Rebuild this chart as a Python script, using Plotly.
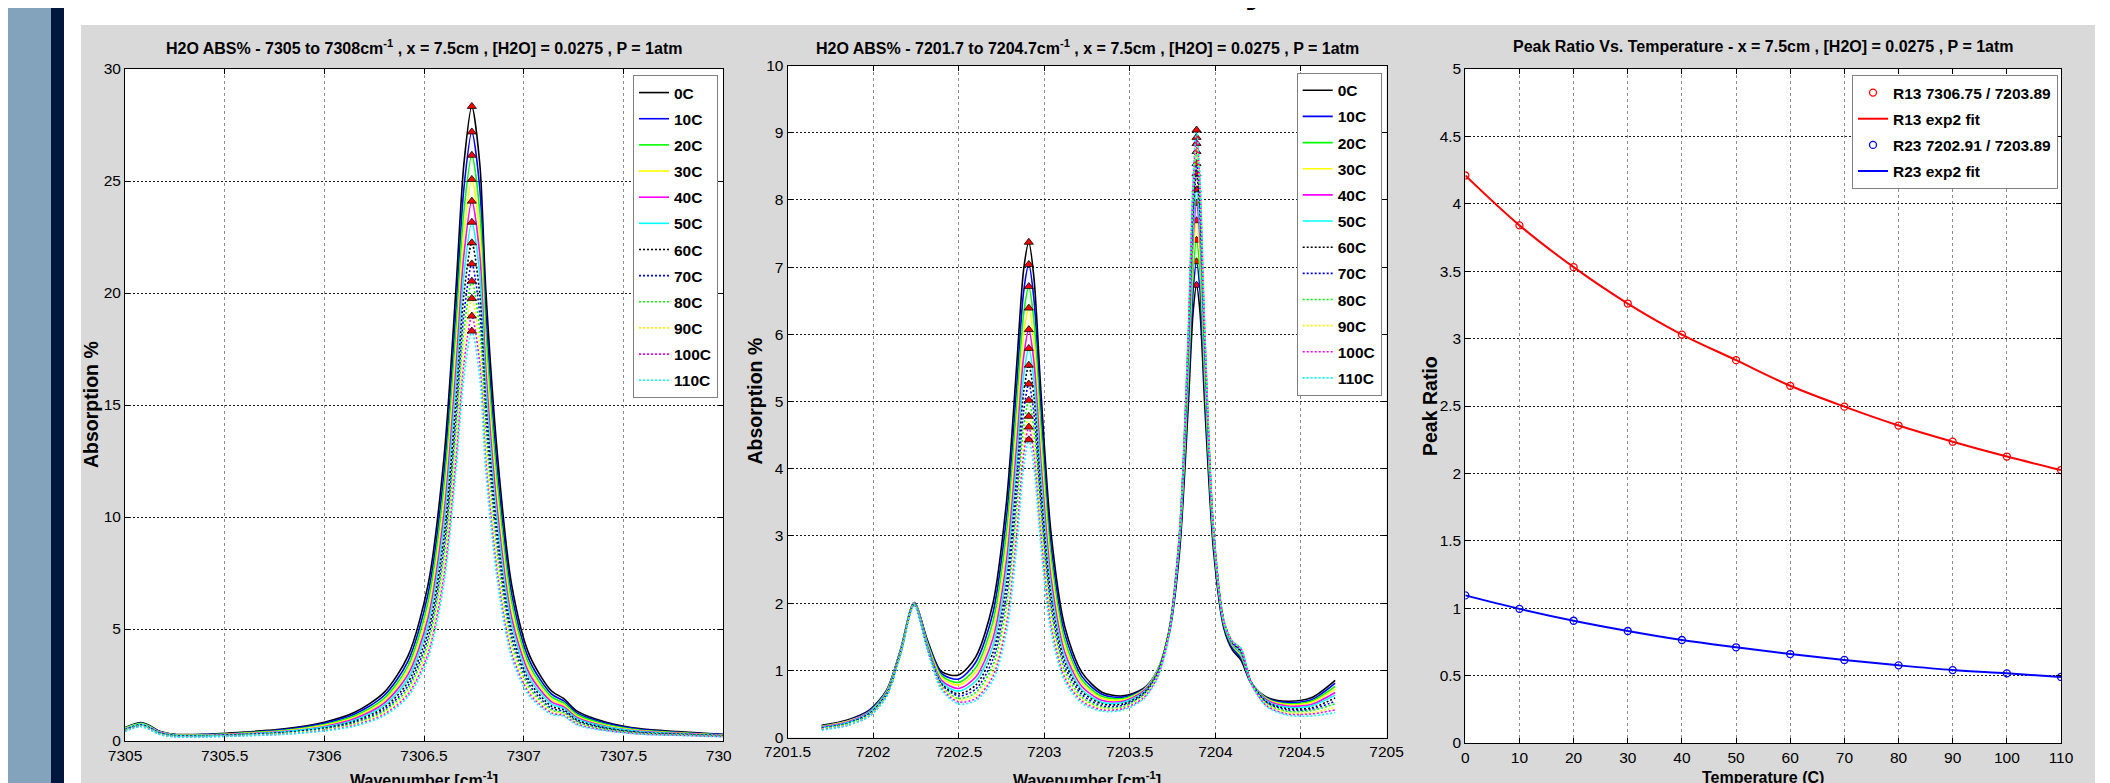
import plotly.graph_objects as go

W, H = 2110, 783
OX, OY = 8, 8          # page body margin the figure is drawn at
FONT = "Liberation Sans, Arial, sans-serif"

# ---------------- data ----------------
TEMPS = ["0C", "10C", "20C", "30C", "40C", "50C", "60C", "70C", "80C", "90C", "100C", "110C"]

# panel 1 : 7305 - 7308 cm-1
WN_7305 = [7305.00, 7305.04, 7305.08, 7305.12, 7305.17, 7305.25, 7305.40, 7305.60, 7305.80, 7306.00,
           7306.15, 7306.30, 7306.42, 7306.52, 7306.60, 7306.66, 7306.70, 7306.74, 7306.78, 7306.81,
           7306.87, 7306.94, 7307.03, 7307.14, 7307.20, 7307.27, 7307.41, 7307.59, 7307.77, 7307.95, 7308.00]
ABS_7305_0C = [0.60, 0.74, 0.82, 0.70, 0.45, 0.30, 0.30, 0.40, 0.54, 0.84, 1.27, 2.17, 3.80, 6.96, 12.62, 20.15, 25.75, 28.33, 25.75, 20.15, 12.62, 6.96, 3.81, 2.23, 1.90, 1.32, 0.85, 0.54, 0.42, 0.32, 0.30]
ABS_7305_10C = [0.58, 0.72, 0.80, 0.68, 0.44, 0.29, 0.29, 0.37, 0.51, 0.79, 1.19, 2.03, 3.57, 6.56, 11.94, 19.19, 24.66, 27.19, 24.66, 19.19, 11.94, 6.56, 3.58, 2.09, 1.80, 1.24, 0.80, 0.51, 0.39, 0.31, 0.29]
ABS_7305_20C = [0.57, 0.71, 0.79, 0.67, 0.42, 0.28, 0.27, 0.36, 0.48, 0.74, 1.12, 1.91, 3.36, 6.19, 11.32, 18.32, 23.65, 26.15, 23.65, 18.32, 11.32, 6.19, 3.37, 1.97, 1.71, 1.17, 0.75, 0.48, 0.38, 0.29, 0.28]
ABS_7305_30C = [0.55, 0.69, 0.77, 0.65, 0.41, 0.27, 0.26, 0.34, 0.45, 0.70, 1.05, 1.79, 3.15, 5.81, 10.69, 17.42, 22.62, 25.07, 22.62, 17.42, 10.69, 5.81, 3.16, 1.85, 1.61, 1.10, 0.70, 0.45, 0.36, 0.28, 0.26]
ABS_7305_40C = [0.53, 0.67, 0.75, 0.63, 0.40, 0.26, 0.25, 0.32, 0.43, 0.65, 0.99, 1.69, 2.97, 5.48, 10.13, 16.62, 21.69, 24.10, 21.69, 16.62, 10.13, 5.48, 2.98, 1.75, 1.53, 1.04, 0.66, 0.43, 0.34, 0.27, 0.25]
ABS_7305_50C = [0.52, 0.66, 0.74, 0.62, 0.38, 0.25, 0.24, 0.30, 0.41, 0.62, 0.93, 1.59, 2.79, 5.18, 9.60, 15.86, 20.80, 23.16, 20.80, 15.86, 9.60, 5.18, 2.80, 1.65, 1.46, 0.98, 0.63, 0.41, 0.32, 0.26, 0.24]
ABS_7305_60C = [0.50, 0.64, 0.72, 0.60, 0.37, 0.24, 0.23, 0.29, 0.38, 0.58, 0.88, 1.49, 2.63, 4.88, 9.09, 15.11, 19.92, 22.24, 19.92, 15.11, 9.09, 4.88, 2.64, 1.55, 1.39, 0.93, 0.59, 0.38, 0.31, 0.25, 0.23]
ABS_7305_70C = [0.49, 0.63, 0.71, 0.59, 0.36, 0.22, 0.22, 0.27, 0.36, 0.55, 0.82, 1.40, 2.47, 4.60, 8.60, 14.37, 19.04, 21.30, 19.04, 14.37, 8.60, 4.60, 2.48, 1.46, 1.32, 0.87, 0.56, 0.36, 0.29, 0.23, 0.22]
ABS_7305_80C = [0.47, 0.61, 0.69, 0.57, 0.34, 0.21, 0.21, 0.26, 0.34, 0.52, 0.78, 1.33, 2.34, 4.36, 8.18, 13.76, 18.31, 20.53, 18.31, 13.76, 8.18, 4.36, 2.35, 1.39, 1.26, 0.83, 0.53, 0.34, 0.28, 0.23, 0.21]
ABS_7305_90C = [0.45, 0.59, 0.67, 0.55, 0.33, 0.20, 0.20, 0.25, 0.33, 0.49, 0.74, 1.26, 2.21, 4.13, 7.78, 13.15, 17.58, 19.76, 17.58, 13.15, 7.78, 4.13, 2.22, 1.32, 1.21, 0.79, 0.50, 0.33, 0.27, 0.22, 0.21]
ABS_7305_100C = [0.44, 0.58, 0.66, 0.54, 0.31, 0.19, 0.19, 0.24, 0.31, 0.47, 0.70, 1.19, 2.09, 3.90, 7.37, 12.54, 16.84, 18.97, 16.84, 12.54, 7.37, 3.90, 2.10, 1.25, 1.15, 0.75, 0.48, 0.31, 0.26, 0.21, 0.20]
ABS_7305_110C = [0.42, 0.56, 0.64, 0.52, 0.30, 0.18, 0.18, 0.23, 0.30, 0.45, 0.66, 1.13, 1.98, 3.71, 7.03, 12.01, 16.21, 18.30, 16.21, 12.01, 7.03, 3.71, 1.99, 1.19, 1.11, 0.71, 0.46, 0.30, 0.25, 0.20, 0.19]
PEAK_WN_1 = 7306.74
PEAK_7306 = [28.33, 27.19, 26.15, 25.07, 24.10, 23.16, 22.24, 21.30, 20.53, 19.76, 18.97, 18.30]

# panel 2 : 7201.7 - 7204.7 cm-1
WN_7202 = [7201.70, 7201.85, 7201.98, 7202.08, 7202.16, 7202.24, 7202.32, 7202.40, 7202.50, 7202.60,
           7202.70, 7202.78, 7202.84, 7202.88, 7202.91, 7202.94, 7202.98, 7203.04, 7203.12, 7203.22,
           7203.34, 7203.46, 7203.58, 7203.66, 7203.73, 7203.79, 7203.84, 7203.87, 7203.89, 7203.91,
           7203.94, 7203.99, 7204.05, 7204.10, 7204.15, 7204.21, 7204.30, 7204.42, 7204.56, 7204.70]
ABS_7202_0C = [0.18, 0.26, 0.41, 0.71, 1.30, 2.01, 1.43, 0.98, 0.93, 1.20, 1.99, 3.52, 5.57, 6.97, 7.37, 6.84, 5.18, 3.04, 1.65, 0.97, 0.67, 0.62, 0.73, 0.98, 1.54, 2.74, 4.85, 6.33, 6.73, 6.34, 4.85, 2.76, 1.62, 1.30, 1.15, 0.80, 0.60, 0.54, 0.59, 0.85]
ABS_7202_10C = [0.17, 0.25, 0.40, 0.70, 1.30, 2.01, 1.41, 0.95, 0.87, 1.12, 1.85, 3.29, 5.26, 6.64, 7.04, 6.52, 4.90, 2.86, 1.55, 0.91, 0.64, 0.60, 0.72, 0.99, 1.57, 2.82, 5.05, 6.65, 7.08, 6.66, 5.06, 2.85, 1.65, 1.33, 1.18, 0.81, 0.59, 0.52, 0.56, 0.81]
ABS_7202_20C = [0.17, 0.24, 0.39, 0.69, 1.29, 2.01, 1.39, 0.92, 0.82, 1.04, 1.72, 3.06, 4.96, 6.31, 6.71, 6.20, 4.64, 2.69, 1.45, 0.86, 0.61, 0.58, 0.71, 0.99, 1.59, 2.89, 5.23, 6.93, 7.40, 6.94, 5.24, 2.92, 1.68, 1.36, 1.21, 0.82, 0.58, 0.50, 0.54, 0.76]
ABS_7202_30C = [0.16, 0.24, 0.38, 0.68, 1.28, 2.00, 1.37, 0.89, 0.78, 0.97, 1.59, 2.85, 4.67, 5.99, 6.39, 5.90, 4.38, 2.53, 1.36, 0.81, 0.58, 0.56, 0.70, 0.98, 1.60, 2.94, 5.39, 7.19, 7.69, 7.20, 5.40, 2.97, 1.71, 1.38, 1.23, 0.82, 0.57, 0.49, 0.52, 0.72]
ABS_7202_40C = [0.16, 0.23, 0.38, 0.67, 1.28, 2.00, 1.35, 0.85, 0.73, 0.90, 1.47, 2.64, 4.38, 5.67, 6.07, 5.59, 4.13, 2.37, 1.27, 0.76, 0.55, 0.54, 0.69, 0.97, 1.60, 2.97, 5.52, 7.42, 7.95, 7.43, 5.54, 3.01, 1.72, 1.39, 1.25, 0.82, 0.56, 0.47, 0.49, 0.67]
ABS_7202_50C = [0.15, 0.22, 0.37, 0.66, 1.27, 1.99, 1.33, 0.82, 0.69, 0.84, 1.36, 2.46, 4.12, 5.39, 5.79, 5.32, 3.91, 2.22, 1.19, 0.71, 0.52, 0.52, 0.67, 0.96, 1.59, 2.99, 5.61, 7.59, 8.15, 7.60, 5.62, 3.03, 1.72, 1.40, 1.26, 0.82, 0.54, 0.45, 0.47, 0.63]
ABS_7202_60C = [0.14, 0.21, 0.36, 0.65, 1.26, 1.99, 1.32, 0.80, 0.65, 0.78, 1.26, 2.29, 3.89, 5.14, 5.54, 5.08, 3.71, 2.10, 1.13, 0.68, 0.50, 0.50, 0.66, 0.95, 1.60, 3.02, 5.73, 7.80, 8.39, 7.81, 5.74, 3.07, 1.73, 1.41, 1.28, 0.82, 0.53, 0.43, 0.44, 0.59]
ABS_7202_70C = [0.14, 0.21, 0.35, 0.65, 1.26, 1.98, 1.31, 0.79, 0.62, 0.72, 1.16, 2.12, 3.64, 4.86, 5.26, 4.82, 3.50, 1.97, 1.06, 0.64, 0.47, 0.48, 0.64, 0.94, 1.59, 3.02, 5.78, 7.92, 8.54, 7.93, 5.80, 3.08, 1.73, 1.42, 1.29, 0.81, 0.52, 0.41, 0.42, 0.54]
ABS_7202_80C = [0.13, 0.20, 0.34, 0.64, 1.25, 1.98, 1.30, 0.77, 0.58, 0.67, 1.07, 1.96, 3.41, 4.62, 5.02, 4.59, 3.31, 1.86, 0.99, 0.60, 0.45, 0.46, 0.63, 0.93, 1.58, 3.03, 5.86, 8.07, 8.72, 8.08, 5.88, 3.09, 1.73, 1.43, 1.31, 0.81, 0.50, 0.39, 0.40, 0.50]
ABS_7202_90C = [0.13, 0.19, 0.33, 0.63, 1.24, 1.98, 1.30, 0.75, 0.56, 0.62, 0.98, 1.81, 3.20, 4.38, 4.78, 4.36, 3.14, 1.75, 0.93, 0.57, 0.43, 0.44, 0.61, 0.91, 1.56, 3.03, 5.89, 8.17, 8.84, 8.18, 5.91, 3.08, 1.72, 1.43, 1.32, 0.80, 0.49, 0.37, 0.37, 0.45]
ABS_7202_100C = [0.12, 0.18, 0.32, 0.62, 1.24, 1.97, 1.29, 0.73, 0.53, 0.58, 0.91, 1.69, 3.04, 4.21, 4.62, 4.21, 3.01, 1.66, 0.89, 0.54, 0.41, 0.43, 0.59, 0.89, 1.54, 3.01, 5.91, 8.24, 8.93, 8.25, 5.93, 3.06, 1.71, 1.43, 1.32, 0.80, 0.47, 0.35, 0.35, 0.41]
ABS_7202_110C = [0.11, 0.18, 0.32, 0.61, 1.23, 1.97, 1.28, 0.71, 0.50, 0.55, 0.85, 1.57, 2.86, 4.02, 4.43, 4.02, 2.86, 1.57, 0.84, 0.51, 0.39, 0.41, 0.57, 0.87, 1.52, 2.99, 5.93, 8.33, 9.04, 8.34, 5.95, 3.05, 1.70, 1.43, 1.33, 0.79, 0.46, 0.33, 0.32, 0.37]
PEAK_WN_2 = 7202.91
PEAK_WN_3 = 7203.89
PEAK_7202 = [7.37, 7.04, 6.71, 6.39, 6.07, 5.79, 5.54, 5.26, 5.02, 4.78, 4.62, 4.43]
PEAK_7203 = [6.73, 7.08, 7.40, 7.69, 7.95, 8.15, 8.39, 8.54, 8.72, 8.84, 8.93, 9.04]

# panel 3 : peak ratios
TEMP_C = [0, 10, 20, 30, 40, 50, 60, 70, 80, 90, 100, 110]
R13 = [4.21, 3.84, 3.53, 3.26, 3.03, 2.84, 2.65, 2.495, 2.355, 2.235, 2.125, 2.025]
R23 = [1.095, 0.995, 0.907, 0.831, 0.764, 0.71, 0.66, 0.616, 0.576, 0.541, 0.517, 0.49]

# tick labels
X1_TICKS = [7305, 7305.5, 7306, 7306.5, 7307, 7307.5, 7308]
X1_TEXT = ["7305", "7305.5", "7306", "7306.5", "7307", "7307.5", "7308"]
Y1_TICKS = [0, 5, 10, 15, 20, 25, 30]
X2_TICKS = [7201.5, 7202, 7202.5, 7203, 7203.5, 7204, 7204.5, 7205]
X2_TEXT = ["7201.5", "7202", "7202.5", "7203", "7203.5", "7204", "7204.5", "7205"]
Y2_TICKS = [0, 1, 2, 3, 4, 5, 6, 7, 8, 9, 10]
X3_TICKS = [0, 10, 20, 30, 40, 50, 60, 70, 80, 90, 100, 110]
Y3_TICKS = [0, 0.5, 1, 1.5, 2, 2.5, 3, 3.5, 4, 4.5, 5]
Y3_TEXT = ["0", "0.5", "1", "1.5", "2", "2.5", "3", "3.5", "4", "4.5", "5"]

# ---------------- styles ----------------
COLORS = ["#000000", "#0000FF", "#00FF00", "#FFFF00", "#FF00FF", "#00FFFF"] * 2
DASHES = ["solid"] * 6 + ["2px,2px"] * 6
GREY = "#D9D9D9"


def px(x):
    return (x - OX) / W


def py(y):
    return 1 - (y - OY) / H


SPEC1 = [ABS_7305_0C, ABS_7305_10C, ABS_7305_20C, ABS_7305_30C, ABS_7305_40C, ABS_7305_50C,
         ABS_7305_60C, ABS_7305_70C, ABS_7305_80C, ABS_7305_90C, ABS_7305_100C, ABS_7305_110C]
SPEC2 = [ABS_7202_0C, ABS_7202_10C, ABS_7202_20C, ABS_7202_30C, ABS_7202_40C, ABS_7202_50C,
         ABS_7202_60C, ABS_7202_70C, ABS_7202_80C, ABS_7202_90C, ABS_7202_100C, ABS_7202_110C]

TRI = dict(symbol="triangle-up", size=8, color="#FF0000", line=dict(color="black", width=0.8))

fig = go.Figure()

for i, lab in enumerate(TEMPS):
    fig.add_trace(go.Scatter(x=WN_7305, y=SPEC1[i], mode="lines", name=lab, legendgroup="a%02d" % i,
                             line=dict(color=COLORS[i], width=1.6, dash=DASHES[i], shape="spline", smoothing=0.8),
                             xaxis="x", yaxis="y", legend="legend"))
    fig.add_trace(go.Scatter(x=[PEAK_WN_1], y=[PEAK_7306[i]], mode="markers", marker=TRI,
                             showlegend=False, xaxis="x", yaxis="y"))

for i, lab in enumerate(TEMPS):
    fig.add_trace(go.Scatter(x=WN_7202, y=SPEC2[i], mode="lines", name=lab, legendgroup="b%02d" % i,
                             line=dict(color=COLORS[i], width=1.6, dash=DASHES[i], shape="spline", smoothing=0.8),
                             xaxis="x2", yaxis="y2", legend="legend2"))
    fig.add_trace(go.Scatter(x=[PEAK_WN_2, PEAK_WN_3], y=[PEAK_7202[i], PEAK_7203[i]], mode="markers",
                             marker=TRI, showlegend=False, xaxis="x2", yaxis="y2"))

fig.add_trace(go.Scatter(x=TEMP_C, y=R13, mode="markers", name="R13 7306.75 / 7203.89", legendgroup="c0",
                         marker=dict(symbol="circle-open", size=7, color="#FF0000", line=dict(width=1.3)),
                         xaxis="x3", yaxis="y3", legend="legend3"))
fig.add_trace(go.Scatter(x=TEMP_C, y=R13, mode="lines", name="R13 exp2 fit", legendgroup="c1",
                         line=dict(color="#FF0000", width=2, shape="spline"), xaxis="x3", yaxis="y3", legend="legend3"))
fig.add_trace(go.Scatter(x=TEMP_C, y=R23, mode="markers", name="R23 7202.91 / 7203.89", legendgroup="c2",
                         marker=dict(symbol="circle-open", size=7, color="#0000FF", line=dict(width=1.3)),
                         xaxis="x3", yaxis="y3", legend="legend3"))
fig.add_trace(go.Scatter(x=TEMP_C, y=R23, mode="lines", name="R23 exp2 fit", legendgroup="c3",
                         line=dict(color="#0000FF", width=2, shape="spline"), xaxis="x3", yaxis="y3", legend="legend3"))


def axis(domain, rng, vals, texts, anchor, gcolor, gdash):
    return dict(domain=domain, range=rng, tickmode="array", tickvals=vals, ticktext=texts, anchor=anchor,
                showline=True, linewidth=1, linecolor="black", mirror="ticks", ticks="inside",
                ticklen=5, tickwidth=1, tickcolor="black", showgrid=True, gridcolor=gcolor,
                griddash=gdash, gridwidth=1, zeroline=False, fixedrange=True, automargin=False,
                tickfont=dict(family=FONT, size=15.5, color="black"))


def xaxis(domain, rng, vals, texts, anchor):
    return axis(domain, rng, vals, texts, anchor, "#8C8C8C", "3px,3px")


def yaxis(domain, rng, vals, texts, anchor):
    return axis(domain, rng, vals, texts, anchor, "#1A1A1A", "2px,2px")


def legend(xr, yt):
    return dict(x=px(xr), y=py(yt), xanchor="right", yanchor="top", bgcolor="white",
                bordercolor="#808080", borderwidth=1, tracegroupgap=3, traceorder="grouped",
                font=dict(family=FONT, size=15.5, color="black", weight="bold"))


def rect(x0, x1, y0, y1, color, layer="below"):
    return dict(type="rect", xref="paper", yref="paper", x0=px(x0), x1=px(x1), y0=py(y1), y1=py(y0),
                fillcolor=color, line=dict(width=0), layer=layer)


TITLE_FONT = dict(family=FONT, size=16, color="black", weight="bold")
YLAB_FONT = dict(family=FONT, size=19.5, color="black", weight="bold")


def note(text, x, y, font, xanchor="center", yanchor="middle", angle=0):
    return dict(text=text, x=px(x), y=py(y), xref="paper", yref="paper", showarrow=False,
                xanchor=xanchor, yanchor=yanchor, textangle=angle, font=font)


annotations = [
    note("H2O ABS% - 7305 to 7308cm<sup>-1</sup> , x = 7.5cm , [H2O] = 0.0275 , P = 1atm", 424, 47, TITLE_FONT),
    note("H2O ABS% - 7201.7 to 7204.7cm<sup>-1</sup> , x = 7.5cm , [H2O] = 0.0275 , P = 1atm", 1087, 47, TITLE_FONT),
    note("Peak Ratio Vs. Temperature - x = 7.5cm , [H2O] = 0.0275 , P = 1atm", 1763, 47, TITLE_FONT),
    note("Wavenumber [cm<sup>-1</sup>]", 424, 767, TITLE_FONT, yanchor="top"),
    note("Wavenumber [cm<sup>-1</sup>]", 1087, 767, TITLE_FONT, yanchor="top"),
    note("Temperature (C)", 1763, 767, TITLE_FONT, yanchor="top"),
    note("Absorption %", 91, 405, YLAB_FONT, angle=-90),
    note("Absorption %", 754, 401.5, YLAB_FONT, angle=-90),
    note("Peak Ratio", 1430, 406, YLAB_FONT, angle=-90),
    note("y", 1256, -12, dict(family=FONT, size=40, color="black", weight="bold")),
]

shapes = [
    rect(64, 2102, 0, 25, "white"),
    rect(64, 81, 0, 800, "white"),
    rect(2095, 2102, 0, 800, "white"),
    rect(0, 51, 0, 800, "#82A3BB"),
    rect(51, 64, 0, 800, "#01173E"),
    rect(2102, 2125, 0, 800, "#01173E"),
    rect(731.5, 763, 745, 800, GREY, layer="above"),
]

fig.update_layout(
    width=W, height=H, autosize=False, margin=dict(l=0, r=0, t=0, b=0, pad=0, autoexpand=False),
    paper_bgcolor=GREY, plot_bgcolor="white", hovermode=False, showlegend=True,
    xaxis=xaxis([px(125), px(723)], [7305, 7308], X1_TICKS, X1_TEXT, "y"),
    yaxis=yaxis([py(741), py(69)], [0, 30], Y1_TICKS, [str(v) for v in Y1_TICKS], "x"),
    xaxis2=xaxis([px(787.5), px(1386.5)], [7201.5, 7205], X2_TICKS, X2_TEXT, "y2"),
    yaxis2=yaxis([py(737.5), py(65.5)], [0, 10], Y2_TICKS, [str(v) for v in Y2_TICKS], "x2"),
    xaxis3=xaxis([px(1465.3), px(2061)], [0, 110], X3_TICKS, [str(v) for v in X3_TICKS], "y3"),
    yaxis3=yaxis([py(743), py(69)], [0, 5], Y3_TICKS, Y3_TEXT, "x3"),
    legend=legend(718, 75),
    legend2=legend(1381.7, 72.7),
    legend3=legend(2058, 75),
    annotations=annotations,
    shapes=shapes,
)

fig.write_html("out.html")
